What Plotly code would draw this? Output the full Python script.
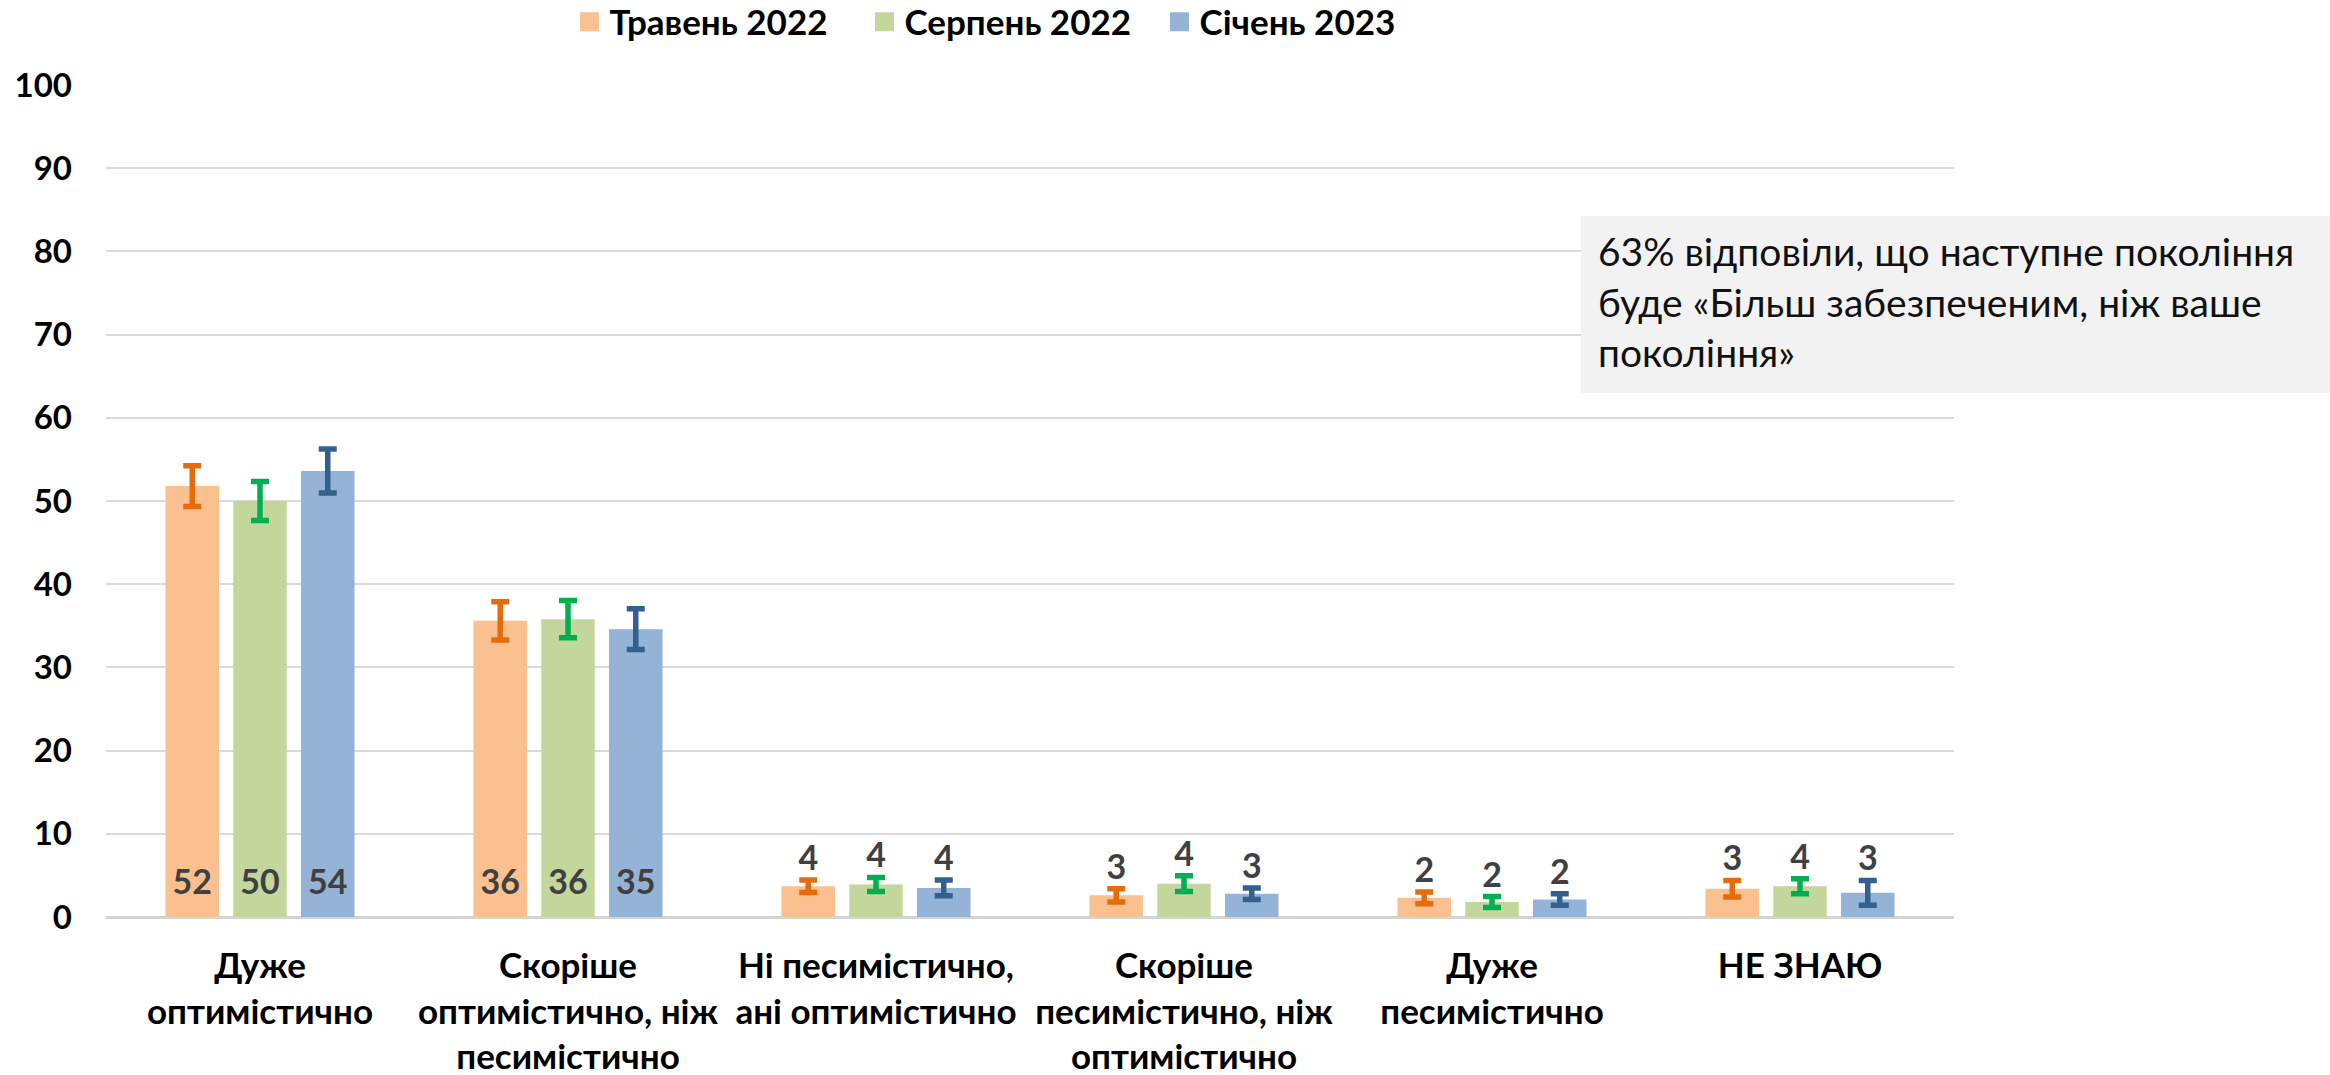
import plotly.graph_objects as go

categories = [
    "Дуже<br>оптимістично",
    "Скоріше<br>оптимістично, ніж<br>песимістично",
    "Ні песимістично,<br>ані оптимістично",
    "Скоріше<br>песимістично, ніж<br>оптимістично",
    "Дуже<br>песимістично",
    "НЕ ЗНАЮ",
]
series_names = ["Травень 2022", "Серпень 2022", "Січень 2023"]

may_2022 = [51.8, 35.6, 3.7, 2.6, 2.3, 3.4]
may_2022_err = [2.45, 2.3, 0.75, 0.8, 0.7, 1.0]
aug_2022 = [50.0, 35.8, 3.9, 4.0, 1.8, 3.7]
aug_2022_err = [2.35, 2.25, 0.85, 0.95, 0.65, 0.9]
jan_2023 = [53.6, 34.6, 3.5, 2.8, 2.1, 2.9]
jan_2023_err = [2.65, 2.45, 0.95, 0.7, 0.7, 1.5]

note_text = "63% відповіли, що наступне покоління<br>буде «Більш забезпеченим, ніж ваше<br>покоління»"

bar_colors = ["#FAC090", "#C3D69B", "#95B3D7"]
err_colors = ["#E46C0A", "#00B050", "#34608F"]

FONT = "Lato"
label_font = dict(family=FONT, size=34, color="#404040", weight="bold")

fig = go.Figure()
for name, vals, errs, bc, ec in zip(
    series_names,
    [may_2022, aug_2022, jan_2023],
    [may_2022_err, aug_2022_err, jan_2023_err],
    bar_colors,
    err_colors,
):
    fig.add_trace(go.Bar(
        x=categories, y=vals, name=name, offsetgroup=name,
        marker=dict(color=bc, line=dict(width=0)),
        error_y=dict(type="data", array=errs, color=ec, thickness=5.5, width=9),
        showlegend=False, hoverinfo="skip",
    ))
    # labels above the error bars for small values
    outside = [f"{v:.0f}" if v < 10 else "" for v in vals]
    tops = [v + e for v, e in zip(vals, errs)]
    fig.add_trace(go.Bar(
        x=categories, y=tops, offsetgroup=name,
        marker=dict(color="rgba(0,0,0,0)", line=dict(width=0)),
        text=outside, textposition="outside", textangle=0, cliponaxis=False,
        outsidetextfont=label_font,
        showlegend=False, hoverinfo="skip",
    ))
    # labels at the base of the large bars
    big_x = [c for c, v in zip(categories, vals) if v >= 10]
    big_t = [f"{v:.0f}" for v in vals if v >= 10]
    fig.add_trace(go.Scatter(
        x=big_x, y=[0] * len(big_x), mode="markers+text", text=big_t,
        marker=dict(size=22, color="rgba(0,0,0,0)"),
        textposition="top center", offsetgroup=name, cliponaxis=False,
        textfont=label_font, showlegend=False, hoverinfo="skip",
    ))

for name, bc in zip(series_names, bar_colors):
    fig.add_trace(go.Scatter(
        x=[None], y=[None], mode="markers", name=name, xaxis="x2", yaxis="y2",
        marker=dict(symbol="square", size=16, color=bc, line=dict(color=bc, width=3)),
    ))

L, R, T, B = 106, 376, 85, 158
W, H = 2330, 1075
pw, ph = W - L - R, H - T - B

def px_x(x):
    return (x - L) / pw

def px_y(y):
    return (H - B - y) / ph

fig.add_shape(type="rect", xref="paper", yref="paper",
              x0=px_x(1581), x1=px_x(2330), y0=px_y(393), y1=px_y(216),
              fillcolor="#F2F2F2", line=dict(width=0), layer="above")
fig.add_annotation(text=note_text, xref="paper", yref="paper",
                   x=px_x(1596), y=px_y(226), xanchor="left", yanchor="top",
                   align="left", showarrow=False,
                   font=dict(family=FONT, size=39, color="#111111"))

fig.update_layout(
    width=W, height=H,
    margin=dict(l=L, r=R, t=T, b=B, autoexpand=False),
    paper_bgcolor="white", plot_bgcolor="white",
    barmode="group", bargap=0.34, bargroupgap=0.21,
    scattermode="group", scattergap=0.34,
    font=dict(family=FONT, color="black"),
    legend=dict(orientation="h", xref="container", yref="container",
                x=1012 / W, xanchor="center", y=1 - 22 / H, yanchor="middle",
                entrywidth=250, entrywidthmode="pixels",
                font=dict(family=FONT, size=35, color="black", weight="bold"),
                bgcolor="rgba(0,0,0,0)"),
    xaxis=dict(showgrid=False, showline=False, ticks="", automargin=False,
               tickfont=dict(family=FONT, size=35, color="black", weight="bold"),
               ticklabelstandoff=25),
    yaxis=dict(range=[0, 100], dtick=10, showgrid=True, gridcolor="#D9D9D9", gridwidth=1.5,
               zeroline=True, zerolinecolor="#D4D4D4", zerolinewidth=3, showline=False, ticks="",
               automargin=False,
               tickfont=dict(family=FONT, size=33, color="black", weight="bold"),
               ticklabelstandoff=33),
    xaxis2=dict(overlaying="x", visible=False),
    yaxis2=dict(overlaying="y", visible=False),
)

fig.write_html("out.html", config={"displayModeBar": False},
               post_script="document.body.style.margin='0px';")
